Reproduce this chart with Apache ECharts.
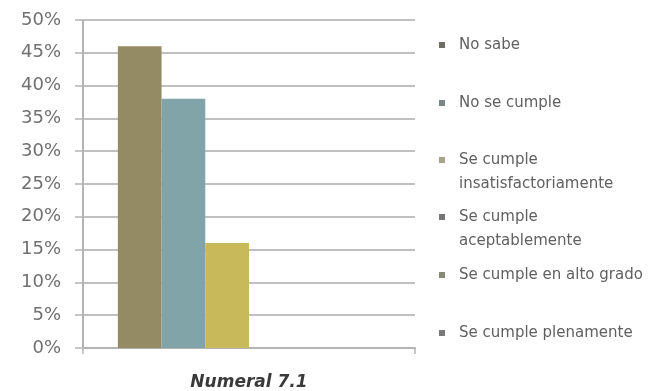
<!DOCTYPE html>
<html>
<head>
<meta charset="utf-8">
<script src="https://cdn.jsdelivr.net/npm/echarts@6/dist/echarts.min.js"></script>
<style>
html,body{margin:0;padding:0;background:#fff;}
#chart{width:658px;height:391px;}
</style>
</head>
<body>
<div id="chart"></div>
<script>
// Category and series data
const categories = ['Numeral 7.1'];
const seriesNames = [
  'No sabe',
  'No se cumple',
  'Se cumple\ninsatisfactoriamente',
  'Se cumple\naceptablemente',
  'Se cumple en alto grado',
  'Se cumple plenamente'
];
const noSabe = [46];
const noSeCumple = [38];
const insatisfactoriamente = [16];
const aceptablemente = [0];
const altoGrado = [0];
const plenamente = [0];
const yTicks = [0, 5, 10, 15, 20, 25, 30, 35, 40, 45, 50];

const seriesValues = [noSabe, noSeCumple, insatisfactoriamente, aceptablemente, altoGrado, plenamente];
const barColors = ['#948a63', '#80a4a7', '#c8b95b', '#8a8f9c', '#9a9c78', '#8c8c8c'];
const legendColors = ['#6f6d66', '#7c8586', '#a4a48a', '#747678', '#878a74', '#7a7a7a'];
const legendTops = [28, 86, 143, 200, 258, 316];

// square marker pinned to the top of a tall box, so it sits beside the first text line
const topSquare = 'path://M0,0L6,0L6,6L0,6Z M0,29.99L0.01,30L0,30Z';

const chart = echarts.init(document.getElementById('chart'));

const legends = seriesNames.map((name, i) => {
  const twoLines = name.indexOf('\n') >= 0;
  return {
    data: [{ name: name, itemStyle: { color: legendColors[i] } }],
    left: 434,
    top: legendTops[i],
    orient: 'vertical',
    icon: twoLines ? topSquare : 'rect',
    itemWidth: 6,
    itemHeight: twoLines ? 30 : 6,
    itemGap: 0,
    selectedMode: false,
    textStyle: {
      color: '#606060',
      fontFamily: 'DejaVu Sans',
      fontSize: 15,
      lineHeight: 24,
      padding: [0, 0, 0, 9]
    }
  };
});

chart.setOption({
  animation: false,
  backgroundColor: '#ffffff',
  grid: { left: 83, right: 243, top: 20, bottom: 42 },
  legend: legends,
  xAxis: {
    type: 'category',
    data: categories,
    axisLine: { lineStyle: { color: '#b4b4b4', width: 2 } },
    axisTick: { show: true, length: 6, lineStyle: { color: '#b4b4b4', width: 1.5 } },
    axisLabel: {
      color: '#3a3a3a',
      fontFamily: 'DejaVu Sans',
      fontStyle: 'italic',
      fontWeight: 'bold',
      fontSize: 17,
      margin: 26
    }
  },
  yAxis: {
    type: 'value',
    min: 0,
    max: 50,
    interval: 5,
    axisLine: { show: true, lineStyle: { color: '#b4b4b4', width: 2 } },
    axisTick: { show: true, length: 8, lineStyle: { color: '#b4b4b4', width: 1.5 } },
    splitLine: { lineStyle: { color: '#c0c0c0', width: 2 } },
    axisLabel: {
      color: '#707070',
      fontFamily: 'DejaVu Sans',
      fontSize: 18,
      margin: 22,
      formatter: v => yTicks.includes(v) ? v + '%' : ''
    }
  },
  series: seriesNames.map((name, i) => ({
    name: name,
    type: 'bar',
    data: seriesValues[i],
    barGap: '0%',
    barCategoryGap: '21%',
    itemStyle: { color: barColors[i] }
  }))
});
</script>
</body>
</html>
